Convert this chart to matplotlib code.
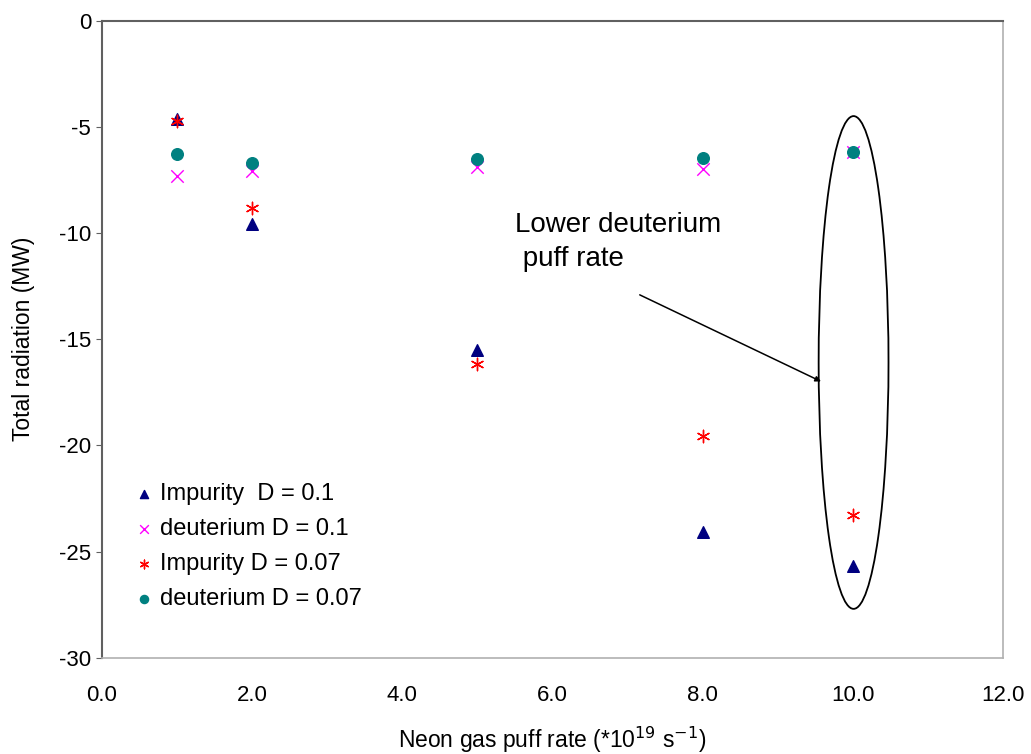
import matplotlib
matplotlib.use('Agg')
import matplotlib.pyplot as plt
from matplotlib.patches import Ellipse

plt.rcParams['font.family'] = ['Liberation Sans', 'DejaVu Sans']

# neon puff rate (*10^19 s^-1)
x = [1, 2, 5, 8, 10]
# total radiation (MW)
imp_d01 = [-4.66, -9.6, -15.5, -24.07, -25.67]
deut_d01 = [-7.3, -7.1, -6.9, -6.97, -6.2]
imp_d007 = [-4.75, -8.85, -16.15, -19.55, -23.3]
deut_d007 = [-6.3, -6.7, -6.5, -6.45, -6.17]

xticks = [0, 2, 4, 6, 8, 10, 12]
yticks = [0, -5, -10, -15, -20, -25, -30]

fig = plt.figure(figsize=(10.31, 7.54), dpi=100)
ax = fig.add_axes([0.0986, 0.1277, 0.8743, 0.8451])

ax.scatter(x, imp_d01, marker='^', s=70, color='#000080', label='Impurity  D = 0.1', zorder=3)
ax.scatter(x, deut_d01, marker='x', s=80, color='#ff00ff', linewidths=1.0, label='deuterium D = 0.1', zorder=3)
ax.scatter(x, imp_d007, marker=(6, 2, 0), s=80, color='#ff0000', linewidths=1.0, label='Impurity D = 0.07', zorder=4)
ax.scatter(x, deut_d007, marker='o', s=70, color='#008080', label='deuterium D = 0.07', zorder=5)

ax.set_xlim(0, 12)
ax.set_ylim(-30, 0)
ax.set_xticks(xticks)
ax.set_xticklabels(['%.1f' % v for v in xticks])
ax.set_yticks(yticks)
ax.set_yticklabels([str(v) for v in yticks])
ax.tick_params(axis='y', direction='out', length=4.5, color='#606060', labelsize=16, pad=3)
ax.tick_params(axis='x', length=0, labelsize=16, pad=20)

for s in ['left', 'top']:
    ax.spines[s].set_color('#606060')
    ax.spines[s].set_linewidth(1.5)
for s in ['right', 'bottom']:
    ax.spines[s].set_color('#b0b0b0')
    ax.spines[s].set_linewidth(1.2)

ax.set_xlabel('Neon gas puff rate (*10$^{19}$ s$^{-1}$)', fontsize=16.5, labelpad=13)
ax.set_ylabel('Total radiation (MW)', fontsize=16.5, labelpad=17)

ell = Ellipse((10.01, -16.1), 0.93, 23.2, fill=False, edgecolor='black', linewidth=1.3)
ax.add_patch(ell)
ax.annotate('', xy=(9.61, -17.05), xytext=(7.13, -12.86),
            arrowprops=dict(arrowstyle='-|>', color='black', lw=1.1, mutation_scale=8))
ax.text(5.5, -10.45, 'Lower deuterium\n puff rate', fontsize=20, va='center', ha='left', linespacing=1.4)

leg = ax.legend(loc='lower left', bbox_to_anchor=(0.005, 0.042), frameon=False, fontsize=17,
                handletextpad=0.0, labelspacing=0.55, handlelength=1.4, markerscale=0.7,
                borderaxespad=0.5)

fig.savefig('out.png', dpi=100)
